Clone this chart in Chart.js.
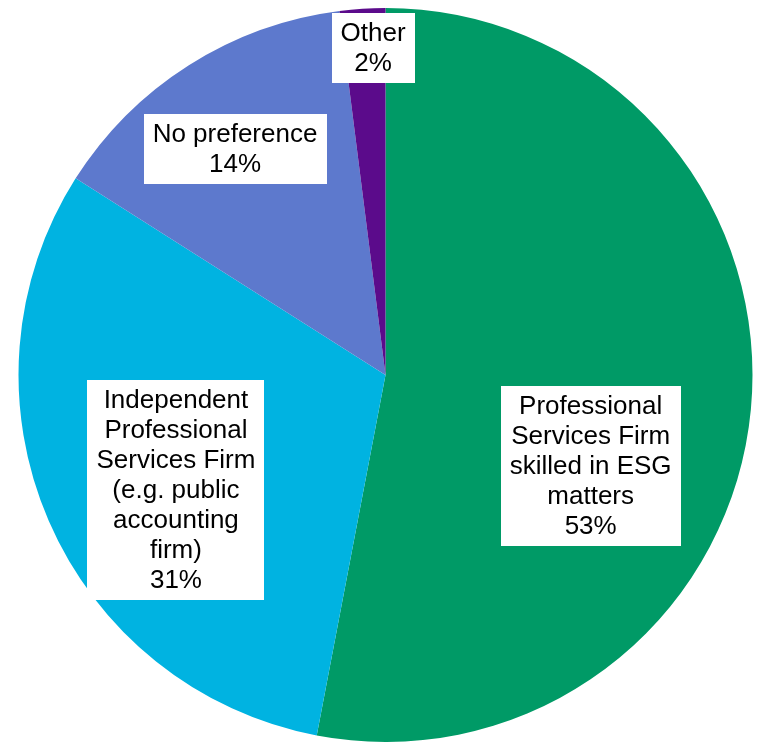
<!DOCTYPE html>
<html>
<head>
<meta charset="utf-8">
<script src="https://cdn.jsdelivr.net/npm/chart.js@4"></script>
<style>
  html, body { margin: 0; padding: 0; background: #fff; overflow: hidden; }
  #wrap { width: 761px; height: 743px; }
</style>
</head>
<body>
<div id="wrap"><canvas id="pieChart"></canvas></div>
<script>
// Chart Data
const categories = [
    ["Professional", "Services Firm", "skilled in ESG", "matters"],
    ["Independent", "Professional", "Services Firm", "(e.g. public", "accounting", "firm)"],
    ["No preference"],
    ["Other"]
];
const shares = [53, 31, 14, 2];
const colors = ["#009A66", "#00B3E1", "#5D79CD", "#5B0B8B"];

// label box centres, in units of the pie radius from its centre
const labelSpots = [[0.559, 0.248], [-0.571, 0.312], [-0.410, -0.616], [-0.034, -0.892]];

const boxLabels = {
    id: "boxLabels",
    afterDatasetsDraw(chart) {
        const ctx = chart.ctx;
        const arcs = chart.getDatasetMeta(0).data;
        ctx.save();
        ctx.font = "26px 'Liberation Sans', Arial, sans-serif";
        ctx.textAlign = "center";
        ctx.textBaseline = "middle";
        const lineH = 30;
        arcs.forEach((arc, i) => {
            const lines = categories[i].concat([shares[i] + "%"]);
            const r = arc.outerRadius;
            const cx = arc.x + labelSpots[i][0] * r;
            const cy = arc.y + labelSpots[i][1] * r;
            const w = Math.max(...lines.map(l => ctx.measureText(l).width)) + 18;
            const h = lines.length * lineH + 10;
            ctx.fillStyle = "#fff";
            ctx.fillRect(Math.round(cx - w / 2), Math.round(cy - h / 2), Math.round(w), Math.round(h));
            ctx.fillStyle = "#000";
            lines.forEach((l, k) => {
                ctx.fillText(l, cx, cy - h / 2 + 5 + lineH * (k + 0.5) + 1);
            });
        });
        ctx.restore();
    }
};

const pieCtx = document.getElementById("pieChart").getContext("2d");
const pieChart = new Chart(pieCtx, {
    type: "pie",
    data: {
        labels: categories.map(c => c.join(" ")),
        datasets: [{
            data: shares,
            backgroundColor: colors,
            borderWidth: 0
        }]
    },
    options: {
        responsive: true,
        maintainAspectRatio: false,
        animation: false,
        layout: { padding: { left: 18, right: 8, top: 8, bottom: 1 } },
        plugins: {
            legend: { display: false },
            tooltip: { enabled: false }
        }
    },
    plugins: [boxLabels]
});
</script>
</body>
</html>
